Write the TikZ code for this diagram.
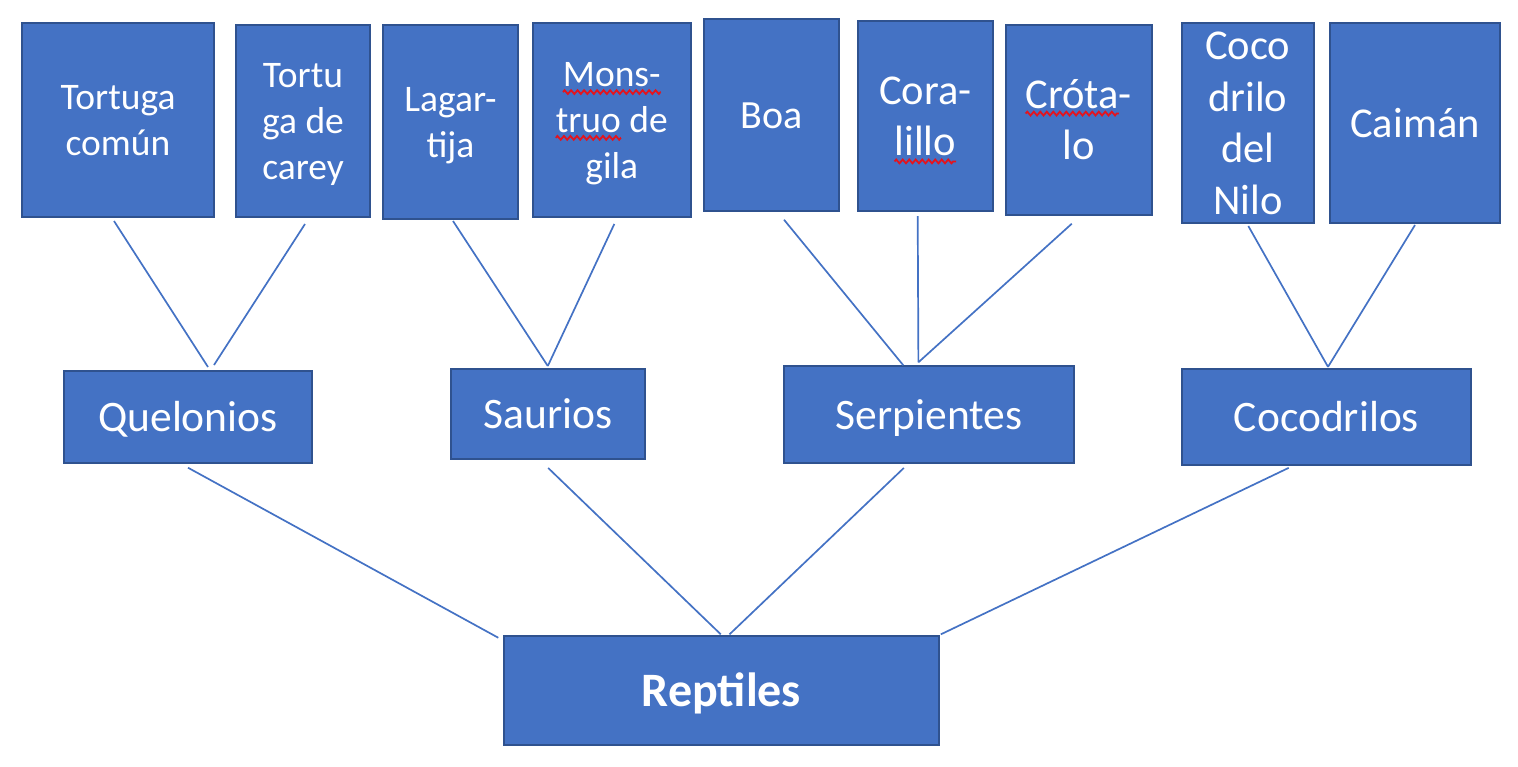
\documentclass[tikz,border=0pt]{standalone}
\usepackage{fontspec}
\setmainfont{Carlito}
\usetikzlibrary{calc,decorations.pathmorphing}
\definecolor{boxfill}{HTML}{4472C4}
\definecolor{boxborder}{HTML}{2F528F}
\definecolor{squigred}{HTML}{E3141E}
\newsavebox\squigbox
\newlength\squigw
\newcommand\squig[1]{\sbox\squigbox{#1}\setlength\squigw{\wd\squigbox}\rlap{\tikz[overlay]\draw[squigred,line width=1.8pt,decorate,decoration={zigzag,segment length=6.5pt,amplitude=1.9pt}] (0pt,-5.5pt) -- (\squigw,-5.5pt);}\usebox\squigbox}
\newcommand\st{\rule[-0.23\baselineskip]{0pt}{\baselineskip}}
\newcommand\fA{\fontsize{37.5}{45.75}\selectfont}
\newcommand\fB{\fontsize{40}{48.8}\selectfont}
\newcommand\fC{\fontsize{42.5}{51.85}\selectfont}
\newcommand\fM{\fontsize{43.5}{53}\selectfont}
\newcommand\fR{\bfseries\fontsize{48}{58.6}\selectfont}
\tikzset{
  box/.style={draw=boxborder, fill=boxfill, line width=2pt, text=white, inner sep=0pt, align=center},
  boxtext/.style={text=white, inner sep=0pt, align=center},
  conn/.style={draw=boxfill, line width=1.7pt},
}
\begin{document}
\begin{tikzpicture}[x=1pt,y=-1pt]
\useasboundingbox (0,0) rectangle (1518,766);
% top row
\node[box,font=\fA,minimum width=192pt,minimum height=194pt] (tc) at (118,120) {\st Tortuga\\\st común};
\node[box,font=\fA,minimum width=134pt,minimum height=192pt] (tcar) at (303,121) {\st Tortu\\\st ga de\\\st carey};
\node[box,font=\fA,minimum width=135pt,minimum height=194pt] (lag) at (450.5,122) {\st Lagar-\\\st tija};
\node[box,font=\fA,minimum width=157.5pt,minimum height=194pt] (mon) at (611.8,120) {\st\squig{Mons-}\\\st\squig{truo} de\\\st gila};
\node[box,font=\fB,minimum width=134.7pt,minimum height=192pt] (boa) at (771.3,115) {\st Boa};
\node[box,font=\fC,minimum width=134.7pt,minimum height=190pt] (cor) at (925.3,116) {\st Cora-\\\st\squig{lillo}};
\node[box,font=\fC,minimum width=146.3pt,minimum height=190pt] (cro) at (1078.8,120) {\st\squig{Cróta}-\\\st lo};
\node[box,minimum width=132.3pt,minimum height=200pt] (coc) at (1247.8,123) {};
\node[boxtext,font=\fC] (coctxt) at (coc.center) {\st Coco\\\st drilo\\\st del\\\st Nilo};
\node[box,font=\fC,minimum width=170.6pt,minimum height=200pt] (cai) at (1415,123) {\st Caimán};
% middle row
\node[box,font=\fM,minimum width=248pt,minimum height=92pt] (que) at (188,417) {\st Quelonios};
\node[box,font=\fM,minimum width=193.7pt,minimum height=90pt] (sau) at (547.8,414) {\st Saurios};
\node[box,font=\fM,minimum width=290pt,minimum height=97pt] (ser) at (929,414.8) {\st Serpientes};
\node[box,font=\fM,minimum width=289pt,minimum height=96.3pt] (cod) at (1326.5,417) {\st Cocodrilos};
% root
\node[box,font=\fR,minimum width=435pt,minimum height=108.7pt] (rep) at (721.5,690.7) {\st Reptiles};
% connectors top -> middle
\draw[conn] ($(tc.south)+(-4,3)$) -- ($(que.north)+(20,-3)$);
\draw[conn] ($(tcar.south)+(2,6)$) -- ($(que.north)+(26,-5)$);
\draw[conn] ($(lag.south)+(2.5,1)$) -- ($(sau.north)+(0,-2)$);
\draw[conn] ($(mon.south)+(2.5,6)$) -- ($(sau.north)+(0,-2)$);
\draw[conn] ($(boa.south)+(12.7,7.7)$) -- ($(ser.north)+(-25.7,0)$);
\draw[conn] ($(cor.south)+(-7.6,4)$) -- ($(ser.north)+(-10.6,-3)$);
\draw[conn] ($(cro.south)+(-7,7.7)$) -- ($(ser.north)+(-10.6,-3)$);
\draw[conn] ($(coc.south)+(0.5,2)$) -- ($(cod.north)+(1.5,-1)$);
\draw[conn] ($(cai.south)+(0,1)$) -- ($(cod.north)+(1.5,-1)$);
% connectors middle -> root
\draw[conn] ($(que.south)+(0,3.7)$) -- ($(rep.north west)+(-4.7,2.4)$);
\draw[conn] ($(sau.south)+(0.4,8)$) -- ($(rep.north)+(-0.7,-1)$);
\draw[conn] ($(ser.south)+(-25.2,3.7)$) -- ($(rep.north)+(8,-1)$);
\draw[conn] ($(cod.south)+(-37.8,1.7)$) -- ($(rep.north east)+(0.8,-1)$);
\end{tikzpicture}
\end{document}
